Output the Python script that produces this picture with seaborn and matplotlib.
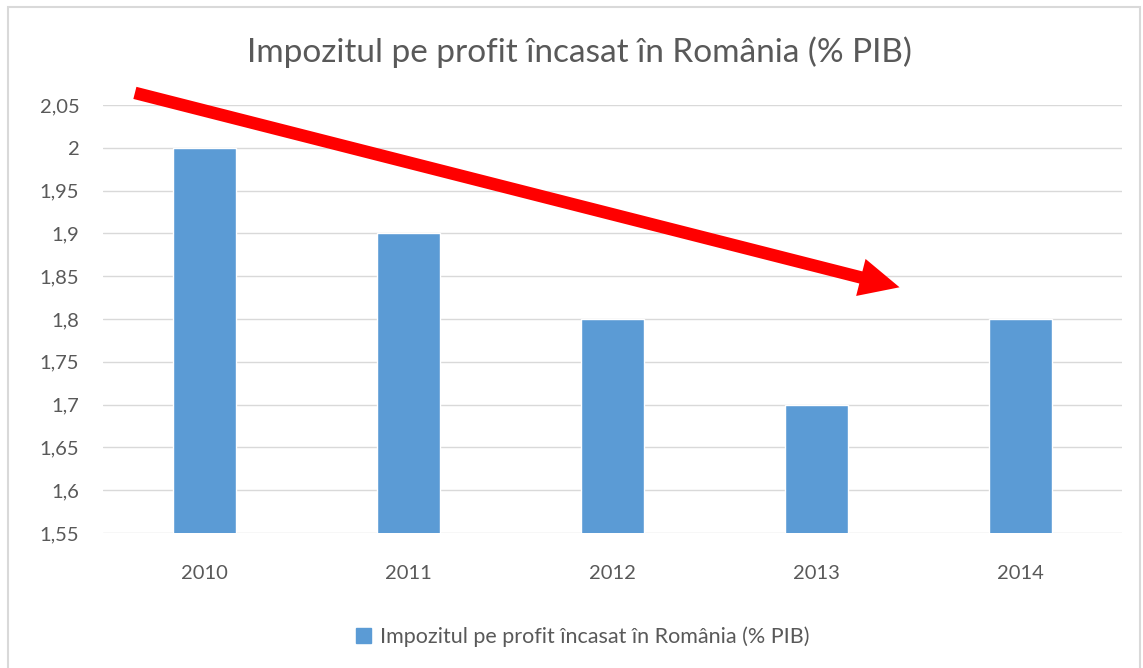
import matplotlib
matplotlib.use("Agg")
import matplotlib.pyplot as plt
import matplotlib.patches as mpatches
from matplotlib.ticker import FuncFormatter
import pandas as pd
import seaborn as sns

years = ["2010", "2011", "2012", "2013", "2014"]
values = [2.0, 1.9, 1.8, 1.7, 1.8]
title = "Impozitul pe profit încasat în România (% PIB)"
bar_color = "#5B9BD5"
text_color = "#595959"
grid_color = "#D9D9D9"

sns.set_theme(style="white")
plt.rcParams["font.family"] = ["Lato", "DejaVu Sans"]

df = pd.DataFrame({"an": years, "val": values})

fig = plt.figure(figsize=(11.43, 6.68), dpi=100)
ax = fig.add_axes([0.090, 0.202, 0.892, 0.641])

sns.barplot(data=df, x="an", y="val", color=bar_color, width=0.31,
            saturation=1, ax=ax, zorder=3)

ax.set_ylim(1.55, 2.05)
ax.set_yticks([1.55 + 0.05 * i for i in range(11)])
ax.yaxis.set_major_formatter(FuncFormatter(lambda v, p: f"{v:.2f}".rstrip("0").rstrip(".").replace(".", ",")))
ax.grid(axis="y", color=grid_color, lw=1, zorder=0)
ax.set_axisbelow(True)
for s in ax.spines.values():
    s.set_visible(False)
ax.set_xlabel("")
ax.set_ylabel("")
ax.tick_params(axis="y", length=0, pad=17, labelsize=14.5, labelcolor=text_color)
ax.tick_params(axis="x", length=0, pad=23, labelsize=14.5, labelcolor=text_color)

# red trend arrow
ax.annotate("", xy=(3.407, 1.837), xytext=(-0.343, 2.064),
            arrowprops=dict(arrowstyle="simple,head_length=1.15,head_width=1.1,tail_width=0.36",
                            mutation_scale=25, facecolor="red", edgecolor="none", lw=0,
                            shrinkA=0, shrinkB=0),
            annotation_clip=False, zorder=5)

fig.text(0.507, 1 - 52 / 668, title, ha="center", va="center",
         fontsize=24, color=text_color)

handle = mpatches.Patch(color=bar_color, label=title)
fig.legend(handles=[handle], loc="center", bbox_to_anchor=(0.51, 1 - 637 / 668),
           frameon=False, fontsize=15.5, labelcolor=text_color,
           handlelength=0.7, handleheight=0.7, handletextpad=0.4)

# chart border
fig.patches.append(mpatches.Rectangle((8 / 1143, -0.01), 1132 / 1143, 1 - 7 / 668 + 0.01,
                                      transform=fig.transFigure, fill=False,
                                      edgecolor=grid_color, lw=1.5))

fig.savefig("out.png", dpi=100, facecolor="white")
